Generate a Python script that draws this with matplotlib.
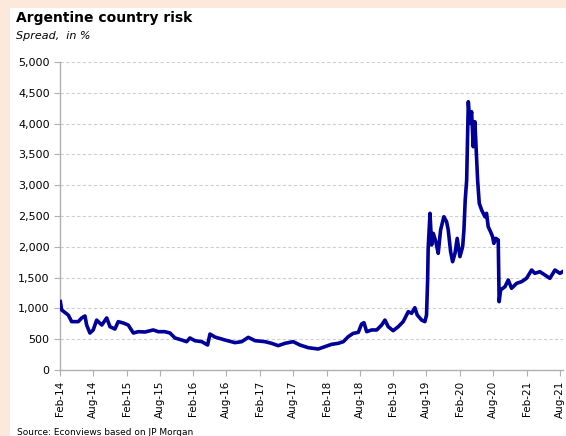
import matplotlib
matplotlib.use("Agg")
import matplotlib.pyplot as plt
import matplotlib.dates as mdates
from matplotlib.ticker import FuncFormatter, MultipleLocator
import pandas as pd

# EMBI spread for Argentina (basis points)
dates = [
    "2014-02-03", "2014-02-10", "2014-03-18", "2014-04-06", "2014-05-12", "2014-05-31",
    "2014-06-18", "2014-06-27", "2014-07-15", "2014-08-02", "2014-08-21", "2014-09-18",
    "2014-10-15", "2014-11-02", "2014-11-29", "2014-12-17", "2015-01-14", "2015-02-10",
    "2015-03-10", "2015-04-06", "2015-05-13", "2015-06-27", "2015-07-25", "2015-08-30",
    "2015-09-27", "2015-10-24", "2015-11-30", "2015-12-27", "2016-01-14", "2016-02-11",
    "2016-03-19", "2016-04-20", "2016-05-03", "2016-05-30", "2016-07-06", "2016-07-24",
    "2016-09-17", "2016-10-24", "2016-11-29", "2017-01-05", "2017-02-28", "2017-04-06",
    "2017-05-12", "2017-06-18", "2017-08-02", "2017-09-08", "2017-10-24", "2017-12-17",
    "2018-01-23", "2018-03-01", "2018-04-06", "2018-05-04", "2018-05-31", "2018-06-27",
    "2018-07-25", "2018-08-12", "2018-08-25", "2018-09-09", "2018-10-06", "2018-11-03",
    "2018-11-30", "2018-12-18", "2019-01-05", "2019-02-01", "2019-03-01", "2019-03-28",
    "2019-04-25", "2019-05-13", "2019-05-31", "2019-06-13", "2019-07-07", "2019-07-25",
    "2019-08-03", "2019-08-09", "2019-08-12", "2019-08-22", "2019-08-31", "2019-09-09",
    "2019-09-23", "2019-10-06", "2019-10-19", "2019-11-06", "2019-11-21", "2019-11-30",
    "2019-12-13", "2019-12-24", "2020-01-06", "2020-01-18", "2020-02-02", "2020-02-17",
    "2020-02-24", "2020-03-02", "2020-03-10", "2020-03-19", "2020-03-28", "2020-04-06",
    "2020-04-15", "2020-04-24", "2020-05-03", "2020-05-09", "2020-05-18", "2020-05-31",
    "2020-06-09", "2020-06-18", "2020-06-27", "2020-07-06", "2020-07-19", "2020-07-30",
    "2020-08-06", "2020-08-17", "2020-08-30", "2020-09-04", "2020-09-12", "2020-10-06",
    "2020-10-24", "2020-11-11", "2020-12-09", "2021-01-05", "2021-02-01", "2021-03-01",
    "2021-03-19", "2021-04-15", "2021-05-13", "2021-06-09", "2021-07-07", "2021-08-03",
    "2021-08-18",
]
spread = [
    1110, 975, 893, 785, 785, 845,
    877, 730, 600, 650, 810, 730,
    845, 703, 665, 785, 763, 730,
    600, 622, 617, 650, 622, 622,
    600, 520, 487, 460, 520, 475,
    460, 406, 584, 535, 503, 487,
    444, 460, 530, 476, 460, 433,
    395, 433, 460, 406, 362, 341,
    379, 417, 433, 460, 541, 595,
    611, 747, 768, 622, 650, 650,
    730, 811, 703, 638, 703, 785,
    947, 920, 1011, 893, 811, 785,
    893, 1461, 1975, 2543, 2029, 2218,
    2083, 1894, 2272, 2488, 2407, 2272,
    1920, 1758, 1894, 2137, 1840, 2002,
    2272, 2759, 3084, 4355, 4004, 4193,
    3625, 4031, 3462, 3084, 2705, 2597,
    2543, 2488, 2543, 2326, 2245, 2164,
    2056, 2137, 2110, 1109, 1299, 1353,
    1461, 1326, 1407, 1434, 1488, 1623,
    1569, 1596, 1542, 1488, 1623, 1569,
    1596,
]

tick_dates = pd.date_range("2014-02-01", "2021-08-01", freq="6MS")
x = pd.to_datetime(dates)

W, H = 566, 436
fig = plt.figure(figsize=(W / 100, H / 100), dpi=100)
fig.patch.set_facecolor("#fde9db")

# white panel behind the chart
bg = fig.add_axes([10 / W, 0, 1 - 10 / W, 1 - 8 / H], zorder=-5)
bg.set_facecolor("white")
bg.set_xticks([])
bg.set_yticks([])
for s in bg.spines.values():
    s.set_visible(False)

ax = fig.add_axes([60 / W, 1 - 370 / H, 503 / W, 308 / H], zorder=1)
ax.set_facecolor("none")
ax.plot(x, spread, color="#000099", lw=2.6, solid_joinstyle="round", zorder=3)

ax.set_ylim(0, 5000)
ax.yaxis.set_major_locator(MultipleLocator(500))
ax.yaxis.set_major_formatter(FuncFormatter(lambda v, p: f"{int(v):,}"))
ax.set_xlim(pd.Timestamp("2014-02-01"), pd.Timestamp("2021-08-20"))
ax.set_xticks(tick_dates)
ax.xaxis.set_major_formatter(mdates.DateFormatter("%b-%y"))
plt.setp(ax.get_xticklabels(), rotation=90)

ax.grid(axis="y", color="#cfcfcf", linestyle=(0, (3, 2)), linewidth=0.8)
ax.grid(axis="x", visible=False)
for s in ["top", "right"]:
    ax.spines[s].set_visible(False)
for s in ["left", "bottom"]:
    ax.spines[s].set_color("#b0b0b0")
    ax.spines[s].set_linewidth(1.0)
ax.tick_params(axis="both", colors="#b0b0b0", labelcolor="black", length=4, width=0.8)
ax.tick_params(axis="y", labelsize=8)
ax.tick_params(axis="x", labelsize=7.5)

fig.text(16 / W, 1 - 18 / H, "Argentine country risk", fontsize=10, fontweight="bold",
         va="center", ha="left")
fig.text(16 / W, 1 - 36 / H, "Spread,  in %", fontsize=8, style="italic",
         va="center", ha="left")
fig.text(17 / W, 1 - 432 / H, "Source: Econviews based on JP Morgan", fontsize=6.5,
         va="center", ha="left")

fig.savefig("out.png", dpi=100)
